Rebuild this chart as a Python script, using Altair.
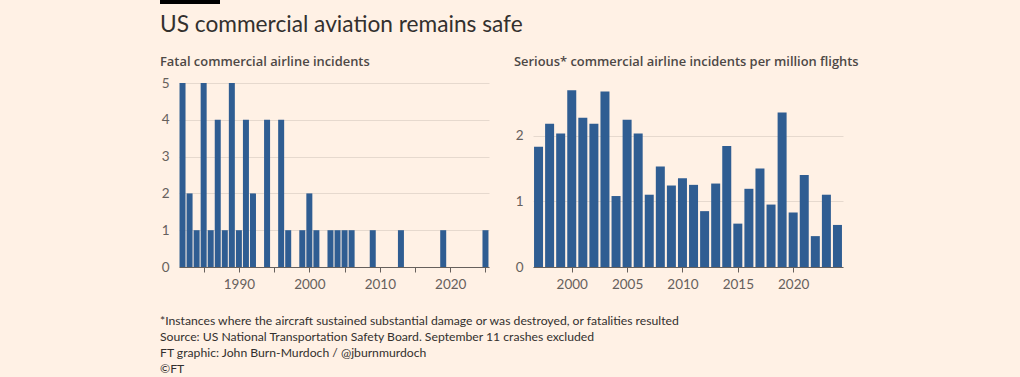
import altair as alt
import pandas as pd

# ---------------- data ----------------
fatal_years = list(range(1982, 2026))
fatal_counts = [5, 2, 1, 5, 1, 4, 1, 5, 1, 4, 2, 0, 4, 0, 4, 1, 0, 1, 2, 1, 0, 1, 1, 1, 1,
                0, 0, 1, 0, 0, 0, 1, 0, 0, 0, 0, 0, 1, 0, 0, 0, 0, 0, 1]

serious_years = list(range(1997, 2025))
serious_rates = [1.83, 2.18, 2.03, 2.69, 2.27, 2.18, 2.67, 1.08, 2.24, 2.03, 1.10, 1.53,
                 1.24, 1.35, 1.25, 0.85, 1.27, 1.84, 0.66, 1.19, 1.50, 0.95, 2.35, 0.83,
                 1.40, 0.47, 1.10, 0.64]

left_ticks = [1985, 1990, 1995, 2000, 2005, 2010, 2015, 2020, 2025]
right_ticks = [2000, 2005, 2010, 2015, 2020]
left_yticks = [0, 1, 2, 3, 4, 5]
right_yticks = [0, 1, 2]

main_title = ["US commercial aviation remains safe"]
left_title = ["Fatal commercial airline incidents"]
right_title = ["Serious* commercial airline incidents per million flights"]
footnotes = [
    "*Instances where the aircraft sustained substantial damage or was destroyed, or fatalities resulted",
    "Source: US National Transportation Safety Board. September 11 crashes excluded",
    "FT graphic: John Burn-Murdoch / @jburnmurdoch",
    "\u00a9FT",
]

# ---------------- style ----------------
BG = "#FFF1E5"
BAR = "#2F5D92"
FONT = "Lato"
SUBFONT = "Open Sans"
TEXT = "#33302E"
SUB = "#4D4845"
AX = "#66605C"
GRID = "#E6D9CE"

W, H = 310, 184

fatal_df = pd.DataFrame({"year": fatal_years, "count": fatal_counts})
fatal_df = fatal_df[fatal_df["count"] > 0]
serious_df = pd.DataFrame({"year": serious_years, "rate": serious_rates})


def x_axis(values, label_expr=None):
    kw = dict(values=values, format="d", title=None, grid=False, domain=True,
              domainColor=AX, domainWidth=1, ticks=True, tickColor=AX, tickSize=5,
              labelFont=FONT, labelFontSize=13.5, labelColor=AX, labelPadding=5)
    if label_expr:
        kw["labelExpr"] = label_expr
    return alt.Axis(**kw)


def y_axis(values):
    return alt.Axis(values=values, title=None, grid=True, gridColor=GRID, domain=False,
                    ticks=False, labelFont=FONT, labelFontSize=13.5, labelColor=AX,
                    labelPadding=10, format="d")


left_bars = alt.Chart(fatal_df).mark_bar(width=6, color=BAR).encode(
    x=alt.X("year:Q", scale=alt.Scale(domain=[1981.5, 2025.5], nice=False, zero=False, padding=0),
            axis=x_axis(left_ticks, "datum.value % 10 == 0 ? datum.label : ''")),
    y=alt.Y("count:Q", scale=alt.Scale(domain=[0, 5], nice=False, padding=0), axis=y_axis(left_yticks)),
)

black_bar = alt.Chart(pd.DataFrame({"k": [0]})).mark_rect(color="#000000").encode(
    x=alt.value(-19), x2=alt.value(41), y=alt.value(-83), y2=alt.value(-79)
)

title_txt = alt.Chart(pd.DataFrame({"t": main_title})).mark_text(
    align="left", baseline="alphabetic", font=FONT, fontSize=22.7, color=TEXT
).encode(x=alt.value(-19), y=alt.value(-51), text="t:N")

left_sub = alt.Chart(pd.DataFrame({"t": left_title})).mark_text(
    align="left", baseline="alphabetic", font=SUBFONT, fontSize=12.9, fontWeight=600, color=SUB
).encode(x=alt.value(-19), y=alt.value(-17), text="t:N")

foot_txt = alt.Chart(pd.DataFrame({"t": ["\n".join(footnotes)]})).mark_text(
    align="left", baseline="alphabetic", font=FONT, fontSize=12.2, color=TEXT,
    lineBreak="\n", lineHeight=16
).encode(x=alt.value(-19), y=alt.value(241.5), text="t:N")

left = alt.layer(left_bars, black_bar, title_txt, left_sub, foot_txt).properties(width=W, height=H)

right_bars = alt.Chart(serious_df).mark_bar(width=9, color=BAR).encode(
    x=alt.X("year:Q", scale=alt.Scale(domain=[1996.5, 2024.5], nice=False, zero=False, padding=0),
            axis=x_axis(right_ticks)),
    y=alt.Y("rate:Q", scale=alt.Scale(domain=[0, 2.8], nice=False, padding=0), axis=y_axis(right_yticks)),
)

right_sub = alt.Chart(pd.DataFrame({"t": right_title})).mark_text(
    align="left", baseline="alphabetic", font=SUBFONT, fontSize=12.9, fontWeight=600, color=SUB
).encode(x=alt.value(-19), y=alt.value(-17), text="t:N")

# invisible frame covering the whole 1020x377 page so the background fills it
frame = alt.Chart(pd.DataFrame({"k": [0]})).mark_rect(opacity=0).encode(
    x=alt.value(-533), x2=alt.value(487), y=alt.value(-83), y2=alt.value(294)
)

right = alt.layer(right_bars, right_sub, frame).properties(width=W, height=H)

chart = alt.hconcat(left, right, spacing=44, bounds="flush").properties(
    background=BG,
    padding={"left": 0, "top": 0, "right": 0, "bottom": 0},
).configure_view(stroke=None).configure_axis(labelFont=FONT)

chart.save("out.html", embed_options={"renderer": "svg", "actions": False})
